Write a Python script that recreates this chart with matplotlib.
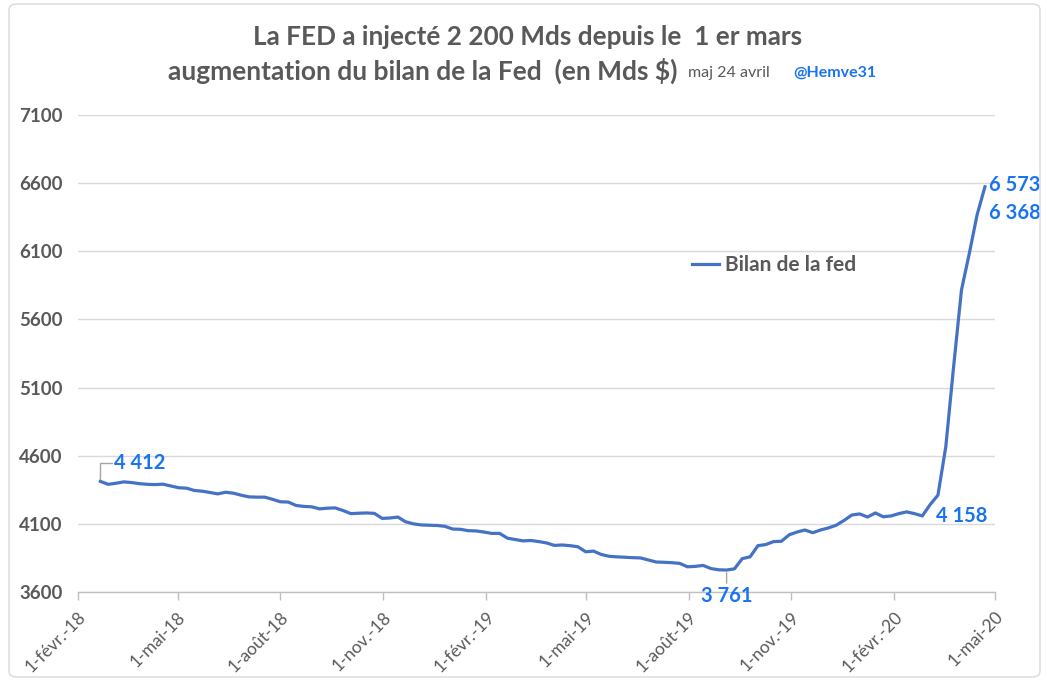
import matplotlib
matplotlib.use("Agg")
import matplotlib.pyplot as plt
from matplotlib.patches import FancyBboxPatch
import pandas as pd

plt.rcParams['font.family'] = ['Lato', 'DejaVu Sans']

# ---------------- data ----------------
start_date = "2018-02-21"          # weekly (Wednesday) observations
bilan = [
    4412, 4390, 4398, 4408, 4403, 4395, 4390, 4388, 4391, 4378,
    4365, 4362, 4345, 4340, 4330, 4320, 4332, 4325, 4310, 4298,
    4296, 4296, 4280, 4262, 4260, 4235, 4228, 4225, 4210, 4215,
    4217, 4198, 4175, 4178, 4180, 4177, 4140, 4143, 4150, 4115,
    4100, 4092, 4090, 4088, 4082, 4062, 4060, 4050, 4048, 4040,
    4030, 4030, 3995, 3985, 3975, 3978, 3970, 3960, 3942, 3945,
    3940, 3932, 3895, 3900, 3875, 3862, 3858, 3855, 3852, 3850,
    3835, 3820, 3818, 3815, 3810, 3785, 3788, 3795, 3772, 3763,
    3761, 3770, 3845, 3858, 3940, 3948, 3970, 3972, 4020, 4040,
    4055, 4035, 4055, 4070, 4090, 4125, 4165, 4173, 4150, 4180,
    4152, 4158, 4175, 4188, 4175, 4158, 4241, 4311, 4666, 5254,
    5815, 6083, 6368, 6573,
]
dates = pd.date_range(start_date, periods=len(bilan), freq="7D")

tick_dates = ["2018-02-01", "2018-05-01", "2018-08-01", "2018-11-01",
              "2019-02-01", "2019-05-01", "2019-08-01", "2019-11-01",
              "2020-02-01", "2020-05-01"]
tick_labels = ["1-févr.-18", "1-mai-18", "1-août-18", "1-nov.-18",
               "1-févr.-19", "1-mai-19", "1-août-19", "1-nov.-19",
               "1-févr.-20", "1-mai-20"]
y_ticks = [3600, 4100, 4600, 5100, 5600, 6100, 6600, 7100]

# labelled points: (index, text)
labelled = {"start": (0, "4 412"), "min": (80, "3 761"), "pre": (105, "4 158"),
            "prev": (112, "6 368"), "last": (113, "6 573")}

title1 = "La FED a injecté 2 200 Mds depuis le  1 er mars"
title2 = "augmentation du bilan de la Fed  (en Mds $)"
maj = "maj 24 avril"
handle = "@Hemve31"
series_name = "Bilan de la fed"

# ---------------- style ----------------
GRAY = "#595959"
BLUE_LINE = "#4472C4"
BLUE_TXT = "#1A73F0"

W, H = 1047, 681
fig = plt.figure(figsize=(W / 100, H / 100), dpi=100)
fig.patch.set_facecolor("white")

# outer frame
frame = FancyBboxPatch((9 / W, 4 / H), (1040 - 9) / W, (677 - 4) / H,
                       boxstyle="round,pad=0,rounding_size=0.008",
                       transform=fig.transFigure, fill=False,
                       edgecolor="#d9d9d9", linewidth=1.0)
fig.patches.append(frame)

ax = fig.add_axes([78 / W, 1 - 592 / H, (995 - 78) / W, (592 - 115) / H])
ax.plot(dates, bilan, color=BLUE_LINE, lw=2.3, label=series_name,
        solid_joinstyle="round", zorder=3)

ax.set_xlim(pd.Timestamp(tick_dates[0]), pd.Timestamp(tick_dates[-1]))
ax.set_ylim(y_ticks[0], y_ticks[-1])
ax.set_yticks(y_ticks)
ax.set_yticklabels([str(v) for v in y_ticks])
ax.set_xticks([pd.Timestamp(d) for d in tick_dates])
ax.set_xticklabels(tick_labels, rotation=45, ha="right", rotation_mode="anchor")

ax.grid(axis="y", color="#d9d9d9", lw=1)
ax.set_axisbelow(True)
for s in ["top", "right", "left"]:
    ax.spines[s].set_visible(False)
ax.spines["bottom"].set_color("#bfbfbf")
ax.spines["bottom"].set_linewidth(1)
ax.tick_params(axis="y", length=0, pad=11, labelsize=13.5, labelcolor=GRAY)
ax.tick_params(axis="x", length=6, width=1, color="#bfbfbf", direction="out",
               labelsize=12.5, labelcolor=GRAY, pad=6)
for t in ax.get_yticklabels():
    t.set_fontweight("bold")

# data labels
def lab(key, dx, dy, ha="left", va="center", leader=None):
    i, txt = labelled[key]
    kw = {}
    if leader is not None:
        kw["arrowprops"] = dict(arrowstyle="-", color="#a6a6a6", lw=1,
                                shrinkA=0, shrinkB=2, connectionstyle=leader)
    ax.annotate(txt, xy=(dates[i], bilan[i]), xytext=(dx, dy),
                textcoords="offset pixels", ha=ha, va=va, color=BLUE_TXT,
                fontsize=14.5, fontweight="bold", zorder=5, **kw)

lab("start", 14, 18, leader="angle,angleA=0,angleB=90,rad=0")
lab("min", 0, -26, ha="center", leader="arc3")
lab("pre", 14, 0)
lab("last", 4, 2)
lab("prev", 12, 2)

# legend
leg = ax.legend(loc="center left", bbox_to_anchor=(692 / W, 1 - 265 / H),
                bbox_transform=fig.transFigure, frameon=False,
                borderpad=0, borderaxespad=0, handlelength=1.3,
                handletextpad=0.3, prop=dict(size=15, weight="bold"))
for t in leg.get_texts():
    t.set_color(GRAY)

# titles
fig.text(528 / W, 1 - 37 / H, title1, ha="center", va="center",
         fontsize=18.8, fontweight="bold", color=GRAY)
fig.text(168 / W, 1 - 71 / H, title2, ha="left", va="center",
         fontsize=19, fontweight="bold", color=GRAY)
fig.text(688 / W, 1 - 73 / H, maj, ha="left", va="center",
         fontsize=11.5, color=GRAY)
fig.text(793 / W, 1 - 73 / H, handle, ha="left", va="center",
         fontsize=11.5, fontweight="bold", color=BLUE_TXT)

fig.savefig("out.png", dpi=100)
